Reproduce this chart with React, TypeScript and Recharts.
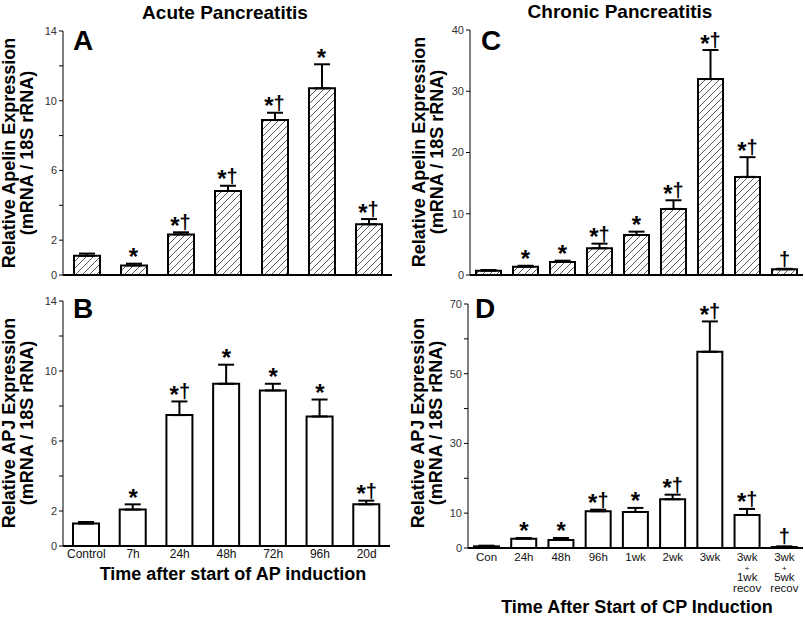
import React from 'react';
import { ComposedChart, Bar, Line, XAxis, YAxis, ErrorBar } from 'recharts';

const FONT = '"Liberation Sans", Arial, Helvetica, sans-serif';

// ---- Data ----
const acuteCategories = ['Control', '7h', '24h', '48h', '72h', '96h', '20d'];
const apelinAP = [1.1, 0.55, 2.33, 4.82, 8.89, 10.71, 2.91];
const apelinAPErr = [0.13, 0.1, 0.12, 0.3, 0.42, 1.38, 0.3];
const apelinAPSig = ['', '*', '*†', '*†', '*†', '*', '*†'];

const apjAP = [1.28, 2.08, 7.48, 9.27, 8.89, 7.4, 2.38];
const apjAPErr = [0.09, 0.3, 0.78, 1.09, 0.38, 0.97, 0.21];
const apjAPSig = ['', '*', '*†', '*', '*', '*', '*†'];

const chronicCategories = ['Con', '24h', '48h', '96h', '1wk', '2wk', '3wk', '3wk\n+\n1wk\nrecov', '3wk\n+\n5wk\nrecov'];
const apelinCP = [0.71, 1.36, 2.13, 4.36, 6.54, 10.79, 31.99, 16.02, 0.93];
const apelinCPErr = [0.1, 0.15, 0.21, 0.76, 0.54, 1.41, 4.74, 3.22, 0.08];
const apelinCPSig = ['', '*', '*', '*†', '*', '*†', '*†', '*†', '†'];

const apjCP = [0.48, 2.68, 2.3, 10.54, 10.34, 13.98, 56.3, 9.48, 0.29];
const apjCPErr = [0.19, 0.19, 0.57, 0.46, 1.16, 1.32, 8.7, 1.72, 0.19];
const apjCPSig = ['', '*', '*', '*†', '*', '*†', '*†', '*†', '†'];

const apTicks = [0, 2, 4, 6, 8, 10, 12, 14];
const apTickLabels = [0, 2, 6, 10, 14];
const apelinCPTicks = [0, 10, 20, 30, 40];
const apelinCPTickLabels = [0, 10, 20, 30, 40];
const apjCPTicks = [0, 10, 20, 30, 40, 50, 60, 70];
const apjCPTickLabels = [0, 10, 30, 50, 70];

type Row = { cat: string; value: number; err: [number, number]; top: number; sig: string };

function buildRows(cats: string[], values: number[], errs: number[], sigs: string[]): Row[] {
  return cats.map((c, i) => ({ cat: c, value: values[i], err: [0, errs[i]], top: values[i] + errs[i], sig: sigs[i] }));
}

const rowsA = buildRows(acuteCategories, apelinAP, apelinAPErr, apelinAPSig);
const rowsB = buildRows(acuteCategories, apjAP, apjAPErr, apjAPSig);
const rowsC = buildRows(chronicCategories, apelinCP, apelinCPErr, apelinCPSig);
const rowsD = buildRows(chronicCategories, apjCP, apjCPErr, apjCPSig);

const renderSig = (props: any) => {
  const { cx, cy, payload, index } = props;
  const sig: string = (payload && payload.sig) || '';
  if (!sig || cx == null || cy == null) return <g key={`s-${index}`} />;
  const star = sig.includes('*');
  const dag = sig.includes('†');
  return (
    <text key={`s-${index}`} x={cx} y={cy + 1.5} textAnchor="middle" fontFamily={FONT} fontWeight="bold" fill="#000">
      {star && <tspan fontSize={24}>*</tspan>}
      {dag && (
        <tspan fontSize={20} dy={-4.5}>
          †
        </tspan>
      )}
    </text>
  );
};

const tickLineDy = (l: string, i: number) => (i === 0 ? 13 : l === '+' ? 9.5 : 10.5);

const MultiTick = (props: any) => {
  const { x, y, payload } = props;
  const lines = String(payload.value).split('\n');
  return (
    <text x={x} y={y} textAnchor="middle" fontFamily={FONT} fontSize={11} fill="#111">
      {lines.map((l, i) => (
        <tspan key={i} x={x} dy={tickLineDy(l, i)} fontSize={l === '+' ? 8 : 11.5}>
          {l}
        </tspan>
      ))}
    </text>
  );
};

const SingleTick = (props: any) => {
  const { x, y, payload } = props;
  return (
    <text x={x} y={y} dy={11.5} textAnchor="middle" fontFamily={FONT} fontSize={12} fill="#111">
      {String(payload.value)}
    </text>
  );
};

type PanelProps = {
  left: number;
  top: number;
  width: number;
  height: number;
  margin: { top: number; right: number; bottom: number; left: number };
  rows: Row[];
  domain: [number, number];
  ticks: number[];
  tickLabels: number[];
  hatched: boolean;
  xTick: any;
  xHeight: number;
  barSize: number;
};

function Panel(p: PanelProps) {
  return (
    <div style={{ position: 'absolute', left: p.left, top: p.top, width: p.width, height: p.height }}>
      <ComposedChart width={p.width} height={p.height} data={p.rows} margin={p.margin}>
        <XAxis
          dataKey="cat"
          type="category"
          interval={0}
          tickLine={false}
          tickSize={0}
          tickMargin={0}
          tick={p.xTick}
          height={p.xHeight}
          axisLine={{ stroke: '#000', strokeWidth: 2 }}
        />
        <YAxis
          type="number"
          domain={p.domain}
          ticks={p.ticks}
          interval={0}
          width={40}
          tickSize={4}
          tickMargin={2}
          tickLine={{ stroke: '#000', strokeWidth: 1 }}
          axisLine={{ stroke: '#000', strokeWidth: 1 }}
          tick={{ fontSize: 11, fill: '#333', fontFamily: FONT }}
          tickFormatter={(v: number) => (p.tickLabels.includes(v) ? String(v) : '')}
        />
        <Bar
          dataKey="value"
          barSize={p.barSize}
          fill={p.hatched ? 'url(#hatch)' : '#fff'}
          stroke="#000"
          strokeWidth={2}
          isAnimationActive={false}
        >
          <ErrorBar dataKey="err" width={8} stroke="#000" strokeWidth={2} direction="y" />
        </Bar>
        <Line
          dataKey="top"
          stroke="none"
          dot={renderSig}
          activeDot={false}
          isAnimationActive={false}
          legendType="none"
        />
      </ComposedChart>
    </div>
  );
}

const textStyle = { fontFamily: FONT, fontWeight: 'bold' as const, fill: '#000' };

export default function App() {
  return (
    <div style={{ position: 'absolute', left: 0, top: 0, width: 805, height: 621, background: '#fff', overflow: 'hidden' }}>
      <svg width={0} height={0} style={{ position: 'absolute' }}>
        <defs>
          <pattern id="hatch" patternUnits="userSpaceOnUse" width={7} height={7}>
            <rect width={7} height={7} fill="#fff" />
            <path d="M-1,1 L1,-1 M0,7 L7,0 M6,8 L8,6" stroke="#444" strokeWidth={0.9} />
          </pattern>
        </defs>
      </svg>

      <Panel
        left={0}
        top={0}
        width={400}
        height={290}
        margin={{ top: 31, right: 8, bottom: 13, left: 23 }}
        rows={rowsA}
        domain={[0, 14]}
        ticks={apTicks}
        tickLabels={apTickLabels}
        hatched
        xTick={false}
        xHeight={2}
        barSize={26}
      />
      <Panel
        left={0}
        top={280}
        width={400}
        height={341}
        margin={{ top: 21, right: 10, bottom: 55, left: 23 }}
        rows={rowsB}
        domain={[0, 14]}
        ticks={apTicks}
        tickLabels={apTickLabels}
        hatched={false}
        xTick={SingleTick}
        xHeight={20}
        barSize={26}
      />
      <Panel
        left={400}
        top={0}
        width={405}
        height={290}
        margin={{ top: 30, right: 2, bottom: 13, left: 30 }}
        rows={rowsC}
        domain={[0, 40]}
        ticks={apelinCPTicks}
        tickLabels={apelinCPTickLabels}
        hatched
        xTick={false}
        xHeight={2}
        barSize={25}
      />
      <Panel
        left={400}
        top={280}
        width={405}
        height={341}
        margin={{ top: 24, right: 2, bottom: 53, left: 28 }}
        rows={rowsD}
        domain={[0, 70]}
        ticks={apjCPTicks}
        tickLabels={apjCPTickLabels}
        hatched={false}
        xTick={MultiTick}
        xHeight={20}
        barSize={25}
      />

      <svg width={805} height={621} style={{ position: 'absolute', left: 0, top: 0, pointerEvents: 'none' }}>
        <text x={225} y={18.5} textAnchor="middle" fontSize={19} {...textStyle}>Acute Pancreatitis</text>
        <text x={620} y={18} textAnchor="middle" fontSize={19} {...textStyle}>Chronic Pancreatitis</text>

        <text x={73} y={49.5} fontSize={28} {...textStyle}>A</text>
        <text x={73} y={318} fontSize={28} {...textStyle}>B</text>
        <text x={481} y={49.5} fontSize={28} {...textStyle}>C</text>
        <text x={475} y={318} fontSize={28} {...textStyle}>D</text>

        <g transform="translate(15,153) rotate(-90)">
          <text x={0} y={0} textAnchor="middle" fontSize={18} {...textStyle}>Relative Apelin Expression</text>
          <text x={0} y={18} textAnchor="middle" fontSize={18} {...textStyle}>(mRNA / 18S rRNA)</text>
        </g>
        <g transform="translate(15,423) rotate(-90)">
          <text x={0} y={0} textAnchor="middle" fontSize={18} {...textStyle}>Relative APJ Expression</text>
          <text x={0} y={18} textAnchor="middle" fontSize={18} {...textStyle}>(mRNA / 18S rRNA)</text>
        </g>
        <g transform="translate(425,152) rotate(-90)">
          <text x={0} y={0} textAnchor="middle" fontSize={18} {...textStyle}>Relative Apelin Expression</text>
          <text x={0} y={18} textAnchor="middle" fontSize={18} {...textStyle}>(mRNA / 18S rRNA)</text>
        </g>
        <g transform="translate(424,423) rotate(-90)">
          <text x={0} y={0} textAnchor="middle" fontSize={18} {...textStyle}>Relative APJ Expression</text>
          <text x={0} y={18} textAnchor="middle" fontSize={18} {...textStyle}>(mRNA / 18S rRNA)</text>
        </g>

        <text x={233} y={579.5} textAnchor="middle" fontSize={18} {...textStyle}>Time after start of AP induction</text>
        <text x={637} y={613} textAnchor="middle" fontSize={18} {...textStyle}>Time After Start of CP Induction</text>
      </svg>
    </div>
  );
}
